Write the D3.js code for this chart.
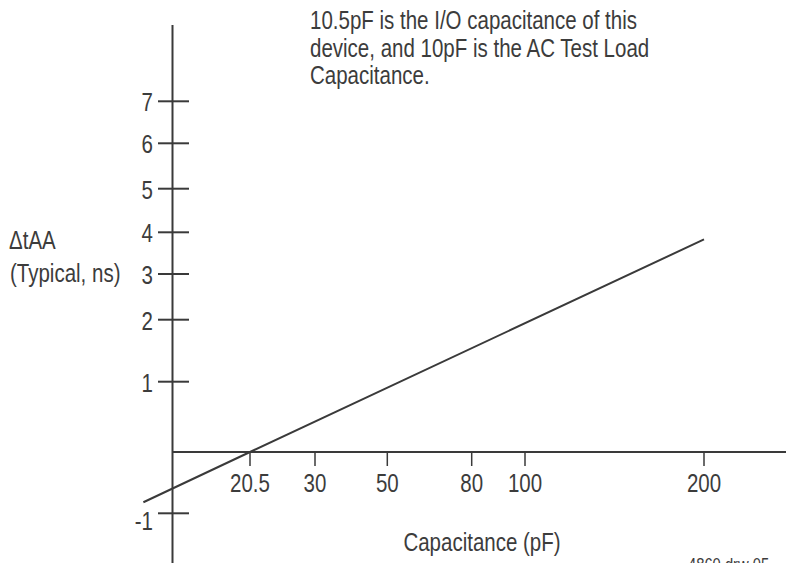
<!DOCTYPE html>
<html>
<head>
<meta charset="utf-8">
<script src="https://cdn.jsdelivr.net/npm/d3@7"></script>
<style>
  html, body { margin: 0; padding: 0; background: #fff; }
  svg { display: block; }
  text { font-family: "Liberation Sans", Arial, Helvetica, sans-serif; fill: #3c3c3c; }
</style>
</head>
<body>
<svg id="chart" width="786" height="563"></svg>
<script>
// ---- data ----
const xTickValues = [20.5, 30, 50, 80, 100, 200];
const xTickLabels = ["20.5", "30", "50", "80", "100", "200"];
const yTickValues = [7, 6, 5, 4, 3, 2, 1, -1];
const yTickLabels = ["7", "6", "5", "4", "3", "2", "1", "-1"];
const lineCapacitance = [-7.7, 20.5, 200];
const lineDelta = [-0.82, 0, 3.83];
const noteLines = [
  "10.5pF is the I/O capacitance of this",
  "device, and 10pF is the AC Test Load",
  "Capacitance."
];
const yTitleLines = ["\u0394tAA", "(Typical, ns)"];
const xTitle = "Capacitance (pF)";
const figureId = "4860 drw 05";

// ---- layout (hand-drawn, non-uniform axes -> piecewise scales) ----
const W = 786, H = 563;
const ink = "#3a3a3a";
const squeeze = 0.82; // condensed lettering
const fs = 25;
const x = d3.scaleLinear()
  .domain([0, 20.5, 30, 50, 80, 100, 200, 230])
  .range([172.5, 250, 315, 387.3, 471.7, 525, 704, 786]);
const y = d3.scaleLinear()
  .domain([-1, 0, 1, 2, 3, 4, 5, 6, 7])
  .range([513.3, 452, 381.7, 319.7, 274, 232.3, 188.7, 143.3, 101.3]);

const svg = d3.select("#chart");
const place = (px, py) => `translate(${px},${py}) scale(${squeeze},1)`;

// axes lines
svg.append("line")
  .attr("x1", x(0)).attr("x2", x(0))
  .attr("y1", 25).attr("y2", H)
  .attr("stroke", ink).attr("stroke-width", 2);
svg.append("line")
  .attr("x1", x(0)).attr("x2", W)
  .attr("y1", y(0)).attr("y2", y(0))
  .attr("stroke", ink).attr("stroke-width", 2.2);

// y ticks (cross the axis)
svg.append("g").selectAll("line").data(yTickValues).join("line")
  .attr("x1", x(0) - 14.5).attr("x2", x(0) + 16.5)
  .attr("y1", d => y(d)).attr("y2", d => y(d))
  .attr("stroke", ink).attr("stroke-width", 2);
svg.append("g").selectAll("text").data(yTickValues).join("text")
  .attr("transform", d => place(x(0) - 19.5, y(d) + (d < 0 ? 17 : 10)))
  .attr("text-anchor", "end")
  .attr("font-size", fs)
  .text((d, i) => yTickLabels[i]);

// x ticks
svg.append("g").selectAll("line").data(xTickValues).join("line")
  .attr("x1", d => x(d)).attr("x2", d => x(d))
  .attr("y1", y(0)).attr("y2", y(0) + 14)
  .attr("stroke", ink).attr("stroke-width", 1.5);
svg.append("g").selectAll("text").data(xTickValues).join("text")
  .attr("transform", d => place(x(d), y(0) + 39.5))
  .attr("text-anchor", "middle")
  .attr("font-size", fs)
  .text((d, i) => xTickLabels[i]);

// data line
const pts = lineCapacitance.map((c, i) => [c, lineDelta[i]]);
svg.append("path")
  .datum(pts)
  .attr("fill", "none")
  .attr("stroke", ink)
  .attr("stroke-width", 2)
  .attr("d", d3.line().x(d => x(d[0])).y(d => y(d[1])));

// titles
svg.append("text")
  .attr("transform", place(482, 551))
  .attr("text-anchor", "middle")
  .attr("font-size", fs)
  .text(xTitle);
svg.append("g").selectAll("text").data(yTitleLines).join("text")
  .attr("transform", (d, i) => place(i === 0 ? 9 : 10, 249 + i * 33))
  .attr("font-size", fs)
  .text(d => d);

// note
svg.append("g").selectAll("text").data(noteLines).join("text")
  .attr("transform", (d, i) => place(310, 29.3 + i * 27.5))
  .attr("font-size", fs)
  .text(d => d);

// figure id (clipped at bottom, as in the source)
svg.append("text")
  .attr("transform", place(688, 571))
  .attr("font-size", 18)
  .text(figureId);
</script>
</body>
</html>
